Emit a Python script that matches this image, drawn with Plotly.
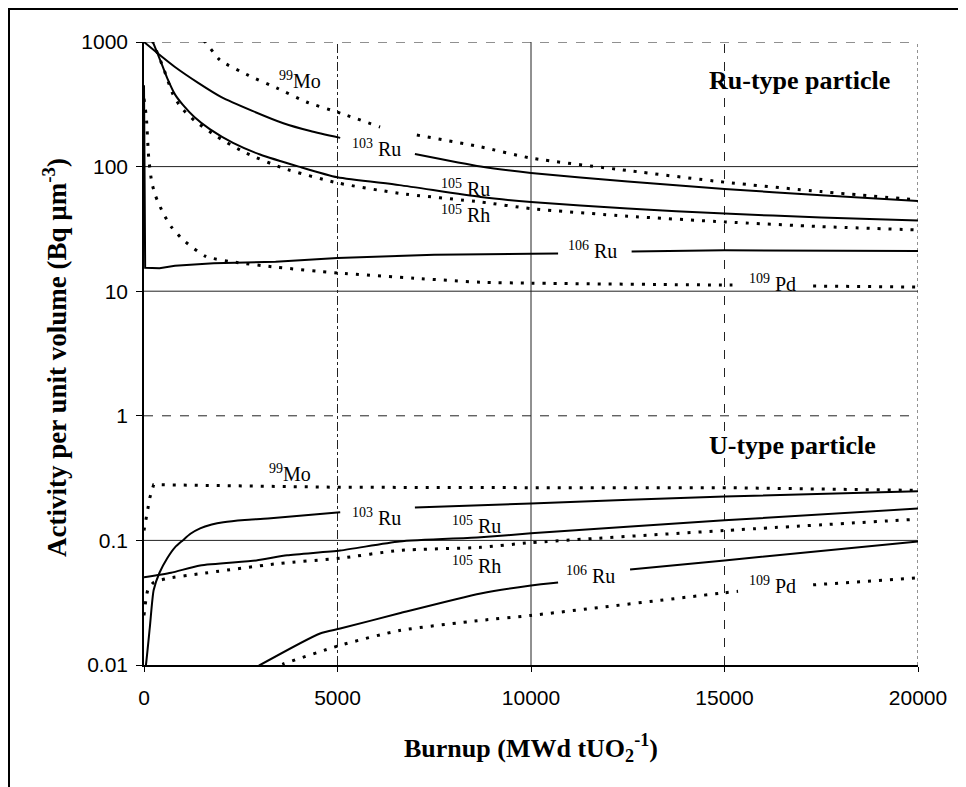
import numpy as np
import plotly.graph_objects as go

# ---------------- Data ----------------
# Ru-type particle
ru_mo99_x = [0, 1000, 1580, 1960, 2700, 3440, 4200, 5070, 6100, None, 7050, 8700, 10000, 12500, 15000, 17500, 20000]
ru_mo99_y = [2500, 1350, 1000, 717, 540, 426, 330, 269, 208, None, 179, 144, 117, 93, 75, 63, 54]

ru_ru103_x = [0, 400, 800, 1400, 2000, 2800, 3600, 4300, 5070, None, 7000, 8700, 10000, 12500, 15000, 17500, 20000]
ru_ru103_y = [1000, 790, 630, 470, 361, 280, 223, 193, 170, None, 126, 100, 89, 76, 66, 59, 53]

ru_ru105_x = [0, 230, 400, 600, 800, 1000, 1300, 1700, 2300, 3000, 4000, 5000, 6600, 8700, 10000, 12500, 15000, 17500, 20000]
ru_ru105_y = [1500, 1000, 740, 513, 380, 314, 250, 200, 155, 125, 100, 82, 71, 57, 52, 46, 42, 39, 37]

ru_rh105_x = [0, 230, 500, 750, 950, 1300, 1900, 2600, 3600, 5000, 6600, 8700, 10000, 12500, 15000, 17500, 20000]
ru_rh105_y = [1500, 1000, 620, 380, 300, 235, 173, 130, 97, 74, 61, 52, 46, 40, 36, 33, 31]

ru_ru106_x = [0, 30, 400, 800, 1800, 3400, 5000, 7500, 10000, 10700, None, 12600, 15000, 20000]
ru_ru106_y = [450, 15.4, 15.3, 16.0, 16.8, 17.2, 18.5, 19.6, 20.0, 20.1, None, 20.8, 21.3, 21.0]

ru_pd109_x = [0, 60, 120, 200, 300, 500, 700, 1000, 1600, 2400, 3400, 5000, 7000, 8700, 10000, 15000, 15350, None, 17290, 20000]
ru_pd109_y = [350, 250, 120, 75, 58, 42, 33, 26, 19, 17, 15.6, 14.0, 12.7, 11.8, 11.6, 11.2, 11.2, None, 11.0, 10.8]

# U-type particle
u_mo99_x = [0, 60, 150, 250, 5000, 10000, 15000, 20000]
u_mo99_y = [0.12, 0.15, 0.22, 0.28, 0.267, 0.265, 0.265, 0.252]

u_ru103_x = [0, 50, 150, 250, 400, 600, 800, 1000, 1200, 1450, 1750, 2050, 2600, 3200, 5070, None, 7000, 10000, 15000, 20000]
u_ru103_y = [0.008, 0.01, 0.02, 0.04, 0.055, 0.072, 0.088, 0.10, 0.113, 0.125, 0.134, 0.14, 0.146, 0.15, 0.168, None, 0.184, 0.198, 0.225, 0.248]

u_ru105_x = [0, 700, 1450, 2900, 3700, 5070, 6600, 8700, 10000, 15000, 20000]
u_ru105_y = [0.0505, 0.055, 0.063, 0.069, 0.076, 0.083, 0.098, 0.106, 0.114, 0.145, 0.18]

u_rh105_x = [0, 100, 250, 600, 1450, 3440, 5070, 6600, 8700, 10000, 15000, 20000]
u_rh105_y = [0.025, 0.040, 0.046, 0.0495, 0.054, 0.065, 0.072, 0.083, 0.088, 0.096, 0.12, 0.148]

u_ru106_x = [2800, 3000, 4550, 5070, 6600, 8700, 10000, 10700, None, 12560, 15000, 20000]
u_ru106_y = [0.0092, 0.0100, 0.0179, 0.0196, 0.026, 0.0375, 0.0435, 0.046, None, 0.0585, 0.069, 0.098]

u_pd109_x = [3300, 3600, 5070, 6600, 8700, 10000, 15000, 15350, None, 17290, 20000]
u_pd109_y = [0.0094, 0.0102, 0.0144, 0.0189, 0.0228, 0.025, 0.038, 0.039, None, 0.044, 0.050]

# Axis ticks
x_ticks = [0, 5000, 10000, 15000, 20000]
x_ticktext = ["0", "5000", "10000", "15000", "20000"]
y_ticks = [0.01, 0.1, 1, 10, 100, 1000]
y_ticktext = ["0.01", "0.1", "1", "10", "100", "1000"]

# Curve labels: (text, burnup, activity)
labels = [
    ("<sup>99</sup>Mo", 4030, 495),
    ("<sup>103</sup> Ru", 6020, 141),
    ("<sup>105</sup> Ru", 8300, 67),
    ("<sup>105</sup> Rh", 8300, 41.5),
    ("<sup>106</sup> Ru", 11580, 21.3),
    ("<sup>109</sup> Pd", 16250, 11.6),
    ("<sup>99</sup>Mo", 3770, 0.35),
    ("<sup>103</sup> Ru", 6020, 0.153),
    ("<sup>105</sup> Ru", 8600, 0.132),
    ("<sup>105</sup> Rh", 8600, 0.064),
    ("<sup>106</sup> Ru", 11530, 0.0524),
    ("<sup>109</sup> Pd", 16250, 0.0435),
]
panel_titles = [("Ru-type particle", 14550, 495), ("U-type particle", 14550, 0.58)]

# ---------------- Figure ----------------
# page body has an 8px margin, so the figure is 8px smaller and margins shifted
W, H = 958, 779
ML, MR, MT, MB = 136, 48, 34, 122
PW, PH = W - ML - MR, H - MT - MB

fig = go.Figure()

SOLID = dict(color="black", width=2)
DOTTED = dict(color="black", width=3, dash="3px,8px")

# (x, y, line style, smooth?)
series = [
    (ru_mo99_x, ru_mo99_y, DOTTED, True),
    (ru_ru103_x, ru_ru103_y, SOLID, True),
    (ru_ru105_x, ru_ru105_y, SOLID, True),
    (ru_rh105_x, ru_rh105_y, DOTTED, True),
    (ru_ru106_x, ru_ru106_y, SOLID, False),
    (ru_pd109_x, ru_pd109_y, DOTTED, True),
    (u_mo99_x, u_mo99_y, DOTTED, False),
    (u_ru103_x, u_ru103_y, SOLID, True),
    (u_ru105_x, u_ru105_y, SOLID, True),
    (u_rh105_x, u_rh105_y, DOTTED, True),
    (u_ru106_x, u_ru106_y, SOLID, True),
    (u_pd109_x, u_pd109_y, DOTTED, True),
]
for xs, ys, ln, smooth in series:
    line = dict(**ln)
    if smooth:
        line.update(shape="spline", smoothing=0.6)
    fig.add_trace(go.Scatter(x=xs, y=ys, mode="lines", line=line,
                             connectgaps=False, showlegend=False, hoverinfo="skip"))

# Grid lines (styles as they appear in the scan)
grid_x = [5000, 10000, 15000, 20000]
grid_x_dash = ["dashdot", "solid", "dash", "dot"]
grid_y = [1000, 100, 10, 1, 0.1]
grid_y_dash = ["dash", "solid", "solid", "dash", "solid"]
shapes = []
for gx, d in zip(grid_x, grid_x_dash):
    shapes.append(dict(type="line", xref="x", yref="paper", x0=gx, x1=gx, y0=0, y1=1,
                       line=dict(color="#222", width=1, dash=d), layer="below"))
for gy, d in zip(grid_y, grid_y_dash):
    shapes.append(dict(type="line", xref="paper", yref="y", x0=0, x1=1,
                       y0=gy, y1=gy,
                       line=dict(color="#222", width=1, dash=d), layer="below"))
# outer frame of the scanned figure (only top/left visible)
shapes.append(dict(type="rect", xref="paper", yref="paper",
                   x0=(1 - ML) / PW, x1=1.3, y0=-0.4, y1=(H - MB - 1) / PH,
                   line=dict(color="black", width=2), layer="below"))

annotations = []
for txt, bx, act in labels:
    annotations.append(dict(x=bx, y=np.log10(act), xref="x", yref="y", text=txt,
                            showarrow=False, font=dict(family="Liberation Serif", size=20, color="black"),
                            xanchor="center", yanchor="middle"))
for txt, bx, act in panel_titles:
    annotations.append(dict(x=bx, y=np.log10(act), xref="x", yref="y", text="<b>" + txt + "</b>",
                            showarrow=False, font=dict(family="Liberation Serif", size=26, color="black"),
                            xanchor="left", yanchor="middle"))
# axis titles (positions in page pixels converted to paper coords)
annotations.append(dict(x=0.5, y=(H - MB - (748 - 8)) / PH, xref="paper", yref="paper",
                        text="<b>Burnup (MWd tUO<sub>2</sub><sup>-1</sup>)</b>", showarrow=False,
                        font=dict(family="Liberation Serif", size=26, color="black"),
                        xanchor="center", yanchor="middle"))
annotations.append(dict(x=((55 - 8) - ML) / PW, y=(H - MB - (358 - 8)) / PH, xref="paper", yref="paper",
                        text="<b>Activity per unit volume (Bq µm<sup>-3</sup>)</b>", showarrow=False,
                        textangle=-90,
                        font=dict(family="Liberation Serif", size=27, color="black"),
                        xanchor="center", yanchor="middle"))

fig.update_layout(
    width=W, height=H,
    margin=dict(l=ML, r=MR, t=MT, b=MB),
    paper_bgcolor="white", plot_bgcolor="white",
    shapes=shapes, annotations=annotations,
    xaxis=dict(range=[0, 20000], tickvals=x_ticks, ticktext=x_ticktext,
               showgrid=False, zeroline=False,
               showline=True, linecolor="black", linewidth=1.5,
               ticks="outside", ticklen=5, tickcolor="black",
               tickfont=dict(family="Liberation Sans", size=21, color="black"),
               ticklabelstandoff=8),
    yaxis=dict(type="log", range=[-2, 3], tickvals=y_ticks, ticktext=y_ticktext,
               showgrid=False, zeroline=False,
               showline=True, linecolor="black", linewidth=1.5,
               ticks="outside", ticklen=6, tickcolor="black",
               tickfont=dict(family="Liberation Sans", size=21, color="black"),
               ticklabelstandoff=4),
)

fig.write_html("out.html")
